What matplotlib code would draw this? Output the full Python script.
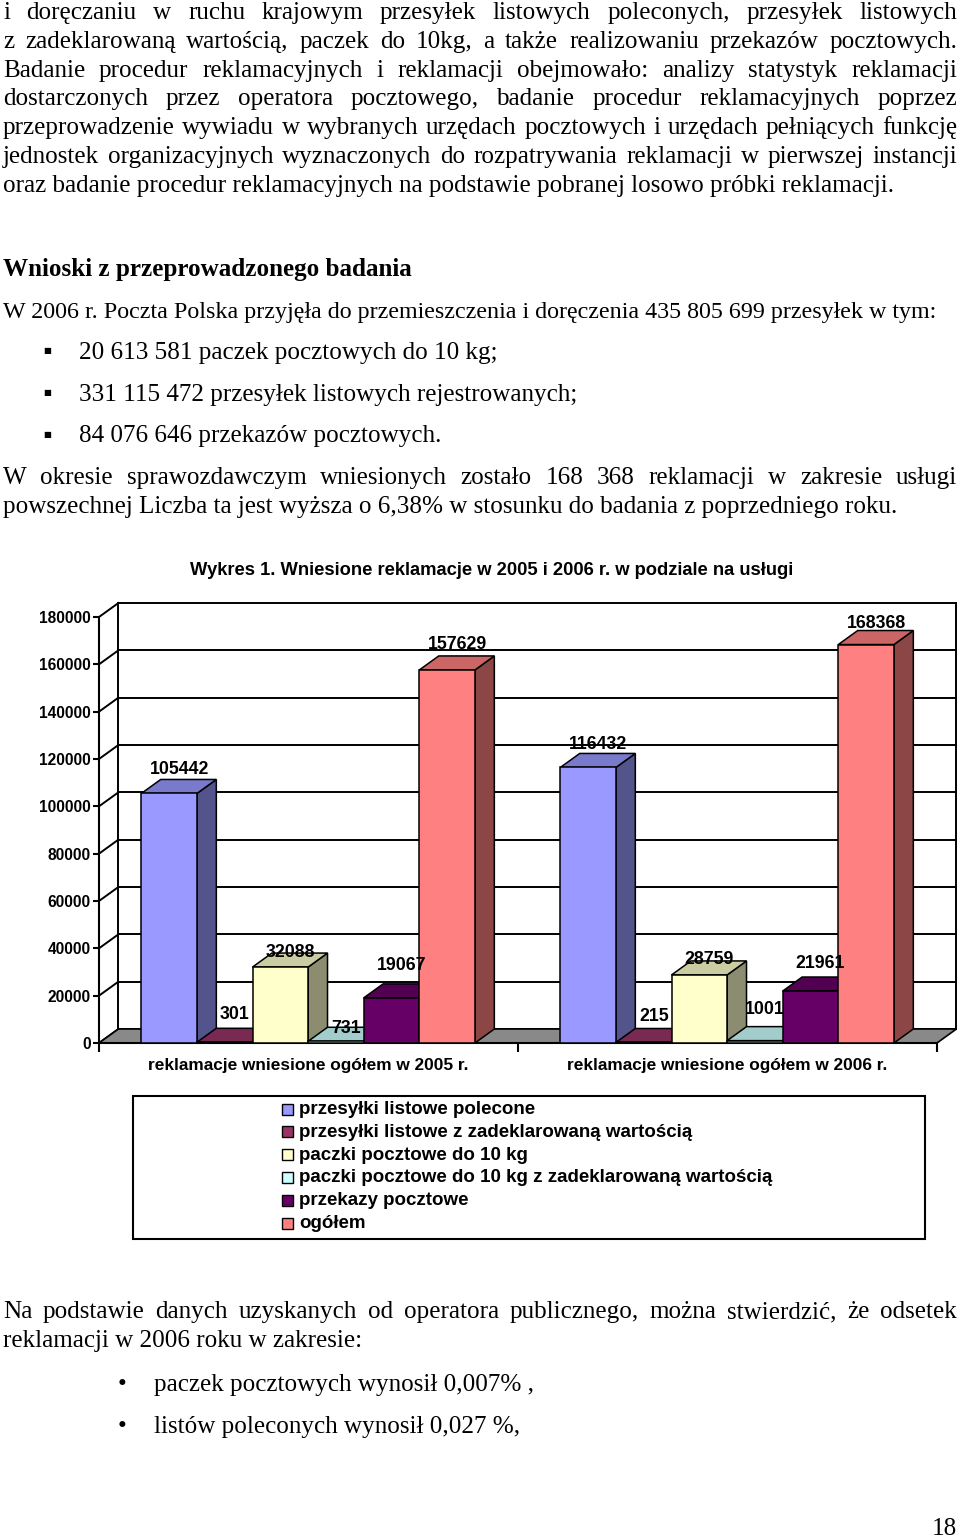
import matplotlib.pyplot as plt
from matplotlib.patches import Polygon, Rectangle
from matplotlib.colors import to_rgb

# dane wykresu
categories = ['reklamacje wniesione ogółem w 2005 r.', 'reklamacje wniesione ogółem w 2006 r.']
series = ['przesyłki listowe polecone',
          'przesyłki listowe z zadeklarowaną wartością',
          'paczki pocztowe do 10 kg',
          'paczki pocztowe do 10 kg z zadeklarowaną wartością',
          'przekazy pocztowe',
          'ogółem']
values_2005 = [105442, 301, 32088, 731, 19067, 157629]
values_2006 = [116432, 215, 28759, 1001, 21961, 168368]
yticks = list(range(0, 180001, 20000))
title = 'Wykres 1. Wniesione reklamacje w 2005 i 2006 r. w podziale na usługi'

colors = ['#9999FF', '#993366', '#FFFFCC', '#CCFFFF', '#660066', '#FF8080']
# przesunięcie etykiet nad słupkami (piksele w górę)
label_rise = [[24, 28, 15, 13, 32, 25], [23, 26, 15, 31, 28, 21]]

W, H = 960, 1537
SERIF = 'Liberation Serif'
SANS = 'Liberation Sans'

fig = plt.figure(figsize=(9.6, 15.37), dpi=100)
page = fig.add_axes([0, 0, 1, 1])
page.set_xlim(0, W)
page.set_ylim(H, 0)
page.axis('off')
renderer = fig.canvas.get_renderer()


def text_width(s, size, family=SERIF, weight='normal'):
    t = page.text(0, 0, s, fontsize=size, family=family, weight=weight)
    w = t.get_window_extent(renderer).width
    t.remove()
    return w


def fit(s, width, family=SERIF, weight='normal'):
    return 20 * width / text_width(s, 20, family, weight)


def line(y, s, size, x0=3, weight='normal'):
    page.text(x0, y, s, fontsize=size, family=SERIF, weight=weight, va='baseline')


def jline(y, s, size, x0=3, x1=957):
    # wyjustowana linia tekstu
    words = s.split()
    ws = [text_width(w, size) for w in words]
    gap = (x1 - x0 - sum(ws)) / (len(words) - 1)
    x = x0
    for w, wd in zip(words, ws):
        page.text(x, y, w, fontsize=size, family=SERIF, va='baseline')
        x += wd + gap


last1 = 'oraz badanie procedur reklamacyjnych na podstawie pobranej losowo próbki reklamacji.'
intro = 'W 2006 r. Poczta Polska przyjęła do przemieszczenia i doręczenia 435 805 699 przesyłek w tym:'
last2 = 'powszechnej Liczba ta jest wyższa o 6,38% w stosunku do badania z poprzedniego roku.'
body = min(fit(last1, 894), fit(last2, 898))
intro_fs = min(body, fit(intro, 934))

# tekst strony
par1 = ['i doręczaniu w ruchu krajowym przesyłek listowych poleconych, przesyłek listowych',
        'z zadeklarowaną wartością, paczek do 10kg, a także realizowaniu przekazów pocztowych.',
        'Badanie procedur reklamacyjnych i reklamacji obejmowało: analizy statystyk reklamacji',
        'dostarczonych przez operatora pocztowego, badanie procedur reklamacyjnych poprzez',
        'przeprowadzenie wywiadu w wybranych urzędach pocztowych i urzędach pełniących funkcję',
        'jednostek organizacyjnych wyznaczonych do rozpatrywania reklamacji w pierwszej instancji']
for k, s in enumerate(par1):
    jline(19 + 28.8 * k, s, body)
line(19 + 28.8 * 6, last1, body)

line(276, 'Wnioski z przeprowadzonego badania', body, weight='bold')
line(318, intro, intro_fs)
for y, s in [(359, '20 613 581 paczek pocztowych do 10 kg;'),
             (401, '331 115 472 przesyłek listowych rejestrowanych;'),
             (442, '84 076 646 przekazów pocztowych.')]:
    page.text(47, y - 8, '■', fontsize=6, family='DejaVu Sans', ha='center', va='center')
    line(y, s, body, x0=79)
jline(484, 'W okresie sprawozdawczym wniesionych zostało 168 368 reklamacji w zakresie usługi', body)
line(513, last2, body)

jline(1318, 'Na podstawie danych uzyskanych od operatora publicznego, można stwierdzić, że odsetek', body)
line(1347, 'reklamacji w 2006 roku w zakresie:', body)
for y, s in [(1391, 'paczek pocztowych wynosił 0,007% ,'),
             (1433, 'listów poleconych wynosił 0,027 %,')]:
    page.text(122, y, '•', fontsize=body, family=SERIF, ha='center', va='baseline')
    line(y, s, body, x0=154)
page.text(957, 1535, '18', fontsize=body, family=SERIF, ha='right', va='baseline')

# wykres
page.text(492, 575, title, fontsize=fit(title, 604, SANS, 'bold'), family=SANS,
          weight='bold', ha='center', va='baseline')

X0, X1, Y0, Y1 = 99, 937, 1043, 617
ax = fig.add_axes([X0 / W, (H - Y0) / H, (X1 - X0) / W, (Y0 - Y1) / H])
ax.set_xlim(0, 2)
ax.set_ylim(0, 180000)
ax.patch.set_visible(False)
ddx = 19.4 / (X1 - X0) * 2
ddy = 14 / (Y0 - Y1) * 180000
BAR_W = 0.1327
PAD = 0.101

for s in ['top', 'right']:
    ax.spines[s].set_visible(False)
for s in ['left', 'bottom']:
    ax.spines[s].set_linewidth(1.5)

tick_fs = fit('180000', 52, SANS, 'bold')
ax.set_yticks(yticks)
ax.set_yticklabels([str(v) for v in yticks], fontsize=tick_fs, family=SANS, weight='bold')
ax.tick_params(axis='y', length=4.5, width=1.5, pad=1.5)
ax.set_xticks([0, 1, 2])
ax.set_xticklabels([])
ax.tick_params(axis='x', which='major', length=6.5, width=1.5)
ax.set_xticks([0.5, 1.5], minor=True)
cat_fs = fit(categories[0], 321, SANS, 'bold')
ax.set_xticklabels(categories, minor=True, fontsize=cat_fs, family=SANS, weight='bold')
ax.tick_params(axis='x', which='minor', length=0, pad=11)

# ściany: tylna i boczna z liniami siatki
for v in yticks:
    ax.plot([ddx, 2 + ddx], [v + ddy, v + ddy], color='black', lw=1.4, clip_on=False, zorder=1)
    ax.plot([0, ddx], [v, v + ddy], color='black', lw=1.4, clip_on=False, zorder=1)
for xx in [ddx, 2 + ddx]:
    ax.plot([xx, xx], [ddy, yticks[-1] + ddy], color='black', lw=1.4, clip_on=False, zorder=1)

# podłoga
ax.add_patch(Polygon([(0, 0), (2, 0), (2 + ddx, ddy), (ddx, ddy)], closed=True,
                     fc='#898989', ec='black', lw=1.2, clip_on=False, zorder=2))


def shade(c, f):
    r, g, b = to_rgb(c)
    return (r * f, g * f, b * f)


val_fs = fit('105442', 59, SANS, 'bold')
for i, vals in enumerate([values_2005, values_2006]):
    for j, v in enumerate(vals):
        c = colors[j]
        x0 = i + PAD + j * BAR_W
        z = 10 + i * 20 + j * 3
        x1 = x0 + BAR_W
        ax.add_patch(Polygon([(x1, 0), (x1 + ddx, ddy), (x1 + ddx, v + ddy), (x1, v)], closed=True,
                             fc=shade(c, 0.55), ec='black', lw=1.1, clip_on=False, zorder=z))
        ax.add_patch(Polygon([(x0, v), (x1, v), (x1 + ddx, v + ddy), (x0 + ddx, v + ddy)], closed=True,
                             fc=shade(c, 0.8), ec='black', lw=1.1, clip_on=False, zorder=z))
        ax.bar(x0, v, width=BAR_W, align='edge', color=c, edgecolor='black', lw=1.1,
               zorder=z + 1, clip_on=False)
        ax.annotate(str(v), (x0 + BAR_W / 2, v), xytext=(10, label_rise[i][j]),
                    textcoords='offset pixels', ha='center', va='center',
                    fontsize=val_fs, family=SANS, weight='bold', zorder=100)

# legenda
page.add_patch(Rectangle((133, 1096), 792, 143, fill=False, ec='black', lw=1.5))
leg_fs = fit(series[3], 475, SANS, 'bold')
for k, (name, c) in enumerate(zip(series, colors)):
    yc = 1109 + 22.8 * k
    page.add_patch(Rectangle((282, yc - 5.5), 11, 11, fc=c, ec='black', lw=1.0))
    page.text(299, yc + 5, name, fontsize=leg_fs, family=SANS, weight='bold', va='baseline')

fig.savefig('out.png', dpi=100)
